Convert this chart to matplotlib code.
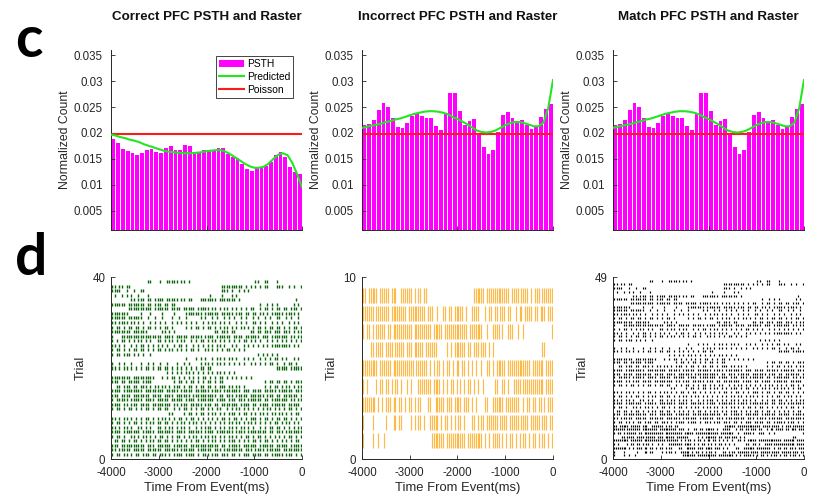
import numpy as np
import matplotlib
matplotlib.use("Agg")
import matplotlib.pyplot as plt
from matplotlib.patches import Patch
from matplotlib.lines import Line2D

# ------------------------------------------------------------------ data
panel_titles = ["Correct PFC PSTH and Raster",
                "Incorrect PFC PSTH and Raster",
                "Match PFC PSTH and Raster"]
t_start, t_end = -4000, 0
n_psth_bins = 40

correct_psth = [0.0189, 0.0181, 0.0170, 0.0165, 0.0161, 0.0158, 0.0161, 0.0168,
                0.0169, 0.0164, 0.0162, 0.0171, 0.0174, 0.0168, 0.0168, 0.0176,
                0.0174, 0.0163, 0.0163, 0.0167, 0.0168, 0.0168, 0.0171, 0.0171,
                0.0160, 0.0154, 0.0152, 0.0141, 0.0131, 0.0127, 0.0132, 0.0133,
                0.0137, 0.0145, 0.0158, 0.0163, 0.0154, 0.0135, 0.0124, 0.0121]
incorrect_psth = [0.0215, 0.0218, 0.0226, 0.0245, 0.0258, 0.0251, 0.0229, 0.0211,
                  0.0210, 0.0220, 0.0233, 0.0238, 0.0233, 0.0229, 0.0229, 0.0213,
                  0.0206, 0.0236, 0.0278, 0.0278, 0.0243, 0.0215, 0.0223, 0.0227,
                  0.0200, 0.0173, 0.0160, 0.0167, 0.0202, 0.0235, 0.0240, 0.0228,
                  0.0223, 0.0225, 0.0215, 0.0207, 0.0213, 0.0230, 0.0247, 0.0256]
match_psth = list(incorrect_psth)          # identical in the figure

pred_times = list(range(-4000, 1, 100))
correct_pred = [0.0197, 0.0195, 0.0192, 0.0190, 0.0187, 0.0185, 0.0182, 0.0178,
                0.0175, 0.0172, 0.0169, 0.0166, 0.0164, 0.0163, 0.0162, 0.0161,
                0.0161, 0.0161, 0.0162, 0.0163, 0.0165, 0.0166, 0.0167, 0.0167,
                0.0164, 0.0159, 0.0153, 0.0147, 0.0141, 0.0136, 0.0133, 0.0133,
                0.0135, 0.0141, 0.0150, 0.0158, 0.0161, 0.0157, 0.0142, 0.0120,
                0.0096]
incorrect_pred = [0.0210, 0.0212, 0.0214, 0.0216, 0.0218, 0.0221, 0.0223, 0.0226,
                  0.0228, 0.0231, 0.0234, 0.0237, 0.0239, 0.0241, 0.0242, 0.0242,
                  0.0241, 0.0239, 0.0236, 0.0231, 0.0227, 0.0222, 0.0217, 0.0211,
                  0.0205, 0.0202, 0.0201, 0.0202, 0.0205, 0.0210, 0.0215, 0.0219,
                  0.0221, 0.0221, 0.0219, 0.0216, 0.0213, 0.0213, 0.0220, 0.0248,
                  0.0302]
match_pred = list(incorrect_pred)

poisson_level = 0.0199

psth_yticks = [0.005, 0.01, 0.015, 0.02, 0.025, 0.03, 0.035]
psth_yticklabels = ["0.005", "0.01", "0.015", "0.02", "0.025", "0.03", "0.035"]
psth_xticks = [-4000, -2000, 0]
raster_xticks = [-4000, -3000, -2000, -1000, 0]
raster_xticklabels = ["-4000", "-3000", "-2000", "-1000", "0"]

# Raster rows, top trial first; each character is one equal time bin
# between -4000 and 0 ms, '|' = spike in that bin.
correct_raster = [
    ".......... .....||... |..|||||.| |.|....... .......... .......... ||..||...| ..........",
    "||.||.||.. .......... .......... .......... ......|||| |||||.|.|. |.|.||...| ||..|.|..|",
    "||||..|..| ..||...... .......... .......... ......|||. |..|.|.|.. .......... ..........",
    ".|..|.|.|. .|...|.... .......... .......... .|....|... |.|....... .......... ..........",
    "........|| .|||.||.|| ||.|||||.| |.||...||| ||||.||||| ||.|...... .......... .......|..",
    "||||||.||| ||||.||.|| |.||.||... .......... .......... .......... ..|..|.|.| ......|.|.",
    ".......||| |||||||.|| ||||.||||. |||||.|||| |.||.|.||. |.|.|.|.|| ..|.||.|.| |.||.|||.|",
    "|||||||... ..|...|... .|....|... .|||||||.| |||||.|||| |.|||.||.| |.||.|.||| ||.||||.|.",
    "||||||.||| |||..|..|. .|...|..|. .|.....|.| ..|.|..|.| .|..|.|..| .|..|.|..| |..|.|..|.",
    "||.||||.|| .|.|..|.|. |.|..|.|.| .|.|.|..|. |.||.|.|.| ..|.|.|..| |.|.|..|.| .|..|.|.|.",
    "|.||.|.||. ||.|.||.|. |.||.|.... .|.|.||.|. ||.|.|.||. |.|.||.|.| .||.|.||.| |.|.|.||.|",
    "||||||||.| |||||..... .||.|.|... .......... ...||.|||. ||......|| .||.|||.|| |.|||.|.||",
    "|...|||||| |||||||||| |.||||.||| ||.|||||.| |||.|||||| .||||.|||| ||.|||.||| ||||.||.||",
    "|.|.||.|.| .||.|.|..| |.|.||.|.| |..|.|.||. |.||.|.|.| .|.|.||.|. |.|..|.|.| .|.|.|.|.|",
    "||.|.|..|. |.||.|.|.| .|.|..|.|| .|..|.|.|. |.|.||.|.. |.|..|.|.| .|.|.|.||| |||||.|.|.",
    "|.||.|.|.| |.||.|.|.| |.|.||.|.| .|.||.|..| |.|.|.|.|| .|.|.|.... .......... ..........",
    "|.||.|||.| .|.|..|... .......... .......... .......... .......... .|.|.|.|.| ..........",
    ".......... .......... .......... .|...|.|.| ..|.||.|.| |.|..|.|.| ..|.|.|.|| .|.|..|.|.",
    "|..|.|..|. ..|..|.|.. |..|...|.. |.|....|.| |.|.||.|.| .|.|.|..|. |.|.|.||.| ..|.||.|..",
    "||.|.||.|. |.|.||.|.| |.||.|.|.| .|.|.|.||. ||........ .......... .........| ||||.|||||",
    ".......... .......... ...|.|.|.| .||.|.|.|. |.|.||.|.| .|........ .......... ..........",
    "||||||||.| ||||||||.. .|.|.||.|. |.|.|.|.|| .|.|.||.|. |.|.|.|.|. .......... ..........",
    "|||.||.||| ||.||||... ......|.|| .|.||.|.|. ||.|.||... .......... ....|.||.| |.||.|.|||",
    "..||.|||.| |.|||.|.|| .||.|.|||. |.||.|.||. ||.|.|||.| |.||.|.... ....|.|.|| .|.||.|.||",
    "||||.||||| |||.|||||| ||.|||||.| ||||.||||| |.||||.||| ||||.|||.| |||.|||||. ||||||.|||",
    "|||.||||.| ||||||.||| |.||||.||| |||.|||||| ||||.||.|| |.|||||.|| ||||.|||.| |.||||||.|",
    "|.|||||.|| |||.||||.| ||||.||||| .||||.|||| |||.||||.| ||.|||.||| |||.||.||| ||||.||.||",
    "||||.||.|| |.||||.||| |||||.||.| ||.|||||.| ||.||.|||| |||.||||.| |.||||.||| |||.|||||.",
    "|.||.|.||. |.|.||.|.| |.||..|.|. ||.|.|.||. |.|.||..|. |.||.|.|.| .|.|.||.|. |.|.||.|.|",
    ".......... .......... ....||.... |.||.|.||. |.||.|.|.| ||.|.||.|. |.||.|.||. ||.|.|.||.",
    "||.|.||.|. |.|.||.|.| .||.|.|.|| .|.||.|.|. |.|.|.||.| .||.|.|.|| |.|.||.|.| |.||.|.|.|",
    "|.||.|.|.| |.|.|.||.| |.||.|.|.| |.|.||.|.| .|.|.|.|.| |.||.|.||. |.|.|.|.|| .|.||.|.|.",
    "||.|.||.|. .||.|.|..| |.|.||.|.| |.|..|.|.| ||.|.|.|.| |.|.||.|.| ..|.|.||.| |.|.|.|.||",
    "||||.||||| ||.|||||.| ||||||.||| |.||||||.| |||.|||||| |.||||.||| |||||.||.| ||.|||||||",
    "|.||.|..|| .|.||.|.|. ||.|.|.||. |.|.||.|.| |.||.|.|.| |.|.|.||.| .||.|.|.|. |.|.||.|.|",
    ".||.||.|.| |.|.|.||.| |.||.|.|.| .|.|.||.|. |.||.|.|.| ||.|.|.|.| |.|.||.|.| .|.|.|.||.",
    "|||.|||||| ||||.|||.| |||||.|||| ||.||||||| |||||.||.| ||||.||||| |.||||||.| ||||.|||||",
    "||.|||||.| ||||.||||| |.||||||.| |||||.|||| ||.|||.||| |||||.|||. ||||.||||| |.||||||||",
    "|.||.||.|. ||.|||.||. |||.|.|||| .||||.|.|| |.|||.|||. ||.|.|||.| |||.||.||| ||.|||.|.|",
]
incorrect_raster = [
    "||.|||||.| ||||.|||.. ||||||.|.| |.||...... .......... ........|| ||||.||||| |||||||.|| ||.||||.|. |||.||||||",
    "||||||.||| ||||.||||| |||.|||||| |||.|||..| ..||.||.|| |||.|..||| |...|.||.| |.|||.||.. |.||.||||. ||.|||.|||",
    "|.||.|.||| ||.||.|||| ||||||.||| ||||||.||| ||.||||||| |||||.|||| |||..|..|| ||.|..|||. .|..|..... .........|",
    "....||.||| |.||||.||| ||.|||.||| ||.||||||. ....|.|.|| ||||.||.|| |.|||.|.|. .......... .......... ....||....",
    "||||||||.| |||||.|||| |||||||.|| ||||.|.|.| |.|.||.|.| |.||.|.|.| ..|..||.|. |||||.|||| ||||||||.| |||||.||||",
    "|.|....|.| |.||.|.||. |..|.|...| ||||||.||| |.|.|.||.| .|.|.||.|. |..|.....| |..||.|..| |||.|||||| |||||.||||",
    "|||||||.|. |.|||.||.| |.|.||.|.| |...||..|| |||.|||.|| ||.|||.|.| ....||..|| ||||.||||| ||..|.||.| |.||.|.|||",
    "|....|.... ..|...||.| |....|.|.| |.|..||||| .|.||.|.|. ||.|...||. |.||.||||| |.||||.||| ||.||||.|| |||.|||.||",
    "|....|..|. .|........ .......... ......|||| |||.|||||| ||||.||||| |||.|.|.|| ||.|.|.||. |.|.||.|.| |.|.||.|.|",
]
match_raster = correct_raster + incorrect_raster   # 39 correct + 9 incorrect trials

psth_sets = [correct_psth, incorrect_psth, match_psth]
pred_sets = [correct_pred, incorrect_pred, match_pred]
raster_sets = [correct_raster, incorrect_raster, match_raster]

# ------------------------------------------------------------------ style
plt.rcParams["font.family"] = ["Liberation Sans", "DejaVu Sans"]
W, H = 818, 499
fig = plt.figure(figsize=(W / 100, H / 100), dpi=100)
axis_color = "#262626"
magenta = "#FF00FF"
green = "#22E622"
red = "#FF1A1A"

raster_styles = [
    dict(color="#0A640A", lw=1.0, half=0.33, alpha=1.0),
    dict(color="#FFA000", lw=0.85, half=0.42, alpha=0.72),
    dict(color="#000000", lw=0.85, half=0.28, alpha=1.0),
]

lefts = [111, 362, 613]
ax_w = 191


def style_axes(ax):
    for s in ("top", "right"):
        ax.spines[s].set_visible(False)
    for s in ("left", "bottom"):
        ax.spines[s].set_color(axis_color)
        ax.spines[s].set_linewidth(0.7)
    ax.tick_params(direction="in", length=3, width=0.6, colors=axis_color,
                   labelsize=8.3, pad=4)


def draw_raster(ax, rows, color, lw, half, alpha):
    n = len(rows)
    xs, y0, y1 = [], [], []
    for r, pat in enumerate(rows):
        trial = n - r
        s = pat.replace(" ", "")
        w = (t_end - t_start) / len(s)
        for i, ch in enumerate(s):
            if ch == "|":
                xs.append(t_start + (i + 0.5) * w)
                y0.append(trial - half)
                y1.append(trial + half)
    ax.vlines(xs, y0, y1, colors=color, linewidth=lw, alpha=alpha)


binw = (t_end - t_start) / n_psth_bins
centers = t_start + (np.arange(n_psth_bins) + 0.5) * binw

for j in range(3):
    # ---- PSTH panel
    ax = fig.add_axes([lefts[j] / W, 1 - 230 / H, ax_w / W, 180 / H])
    ax.bar(centers, psth_sets[j], width=0.8 * binw, color=magenta,
           edgecolor="none", zorder=1)
    ax.axhline(poisson_level, color=red, lw=1.5, zorder=2)
    ax.plot(pred_times, pred_sets[j], color=green, lw=1.5, zorder=3)
    ax.set_xlim(t_start, t_end)
    ax.set_ylim(0.0013, 0.036)
    ax.set_yticks(psth_yticks)
    ax.set_yticklabels(psth_yticklabels)
    ax.set_xticks(psth_xticks)
    ax.set_xticklabels([])
    style_axes(ax)
    ax.tick_params(axis="y", pad=6)
    ax.set_ylabel("Normalized Count", fontsize=8.8, color=axis_color)
    ax.yaxis.set_label_coords(-0.21, 0.5)
    fig.text((lefts[j] + ax_w / 2) / W, 1 - 17 / H, panel_titles[j],
             ha="center", va="center", fontsize=9.6, fontweight="bold",
             color="#111111")
    if j == 0:
        handles = [Patch(facecolor=magenta, edgecolor="none"),
                   Line2D([0], [0], color=green, lw=1.5),
                   Line2D([0], [0], color=red, lw=1.5)]
        leg = ax.legend(handles, ["PSTH", "Predicted", "Poisson"],
                        loc="upper right", bbox_to_anchor=(0.955, 0.965),
                        fontsize=7.4, frameon=True, fancybox=False,
                        framealpha=1, edgecolor="#444444", borderpad=0.3,
                        labelspacing=0.25, handlelength=2.4, handletextpad=0.3,
                        borderaxespad=0)
        leg.get_frame().set_linewidth(0.7)

    # ---- raster panel
    rows = raster_sets[j]
    n_trials = len(rows)
    axr = fig.add_axes([lefts[j] / W, 1 - 459 / H, ax_w / W, 182 / H])
    draw_raster(axr, rows, **raster_styles[j])
    axr.set_xlim(t_start, t_end)
    axr.set_ylim(0, n_trials + 1)
    axr.set_yticks([0, n_trials + 1])
    axr.set_xticks(raster_xticks)
    axr.set_xticklabels(raster_xticklabels)
    style_axes(axr)
    axr.tick_params(axis="x", pad=6)
    axr.set_ylabel("Trial", fontsize=9.2, color=axis_color)
    axr.yaxis.set_label_coords(-0.125, 0.5)
    axr.set_xlabel("Time From Event(ms)", fontsize=9.4, color=axis_color)
    axr.xaxis.set_label_coords(0.5, -0.128)

fig.text(29 / W, 1 - 57 / H, "c", ha="center", va="baseline",
         fontsize=41, fontweight="bold", family=["Lato", "DejaVu Sans"])
fig.text(31 / W, 1 - 275 / H, "d", ha="center", va="baseline",
         fontsize=41, fontweight="bold", family=["Lato", "DejaVu Sans"])

fig.savefig("out.png", dpi=100)
